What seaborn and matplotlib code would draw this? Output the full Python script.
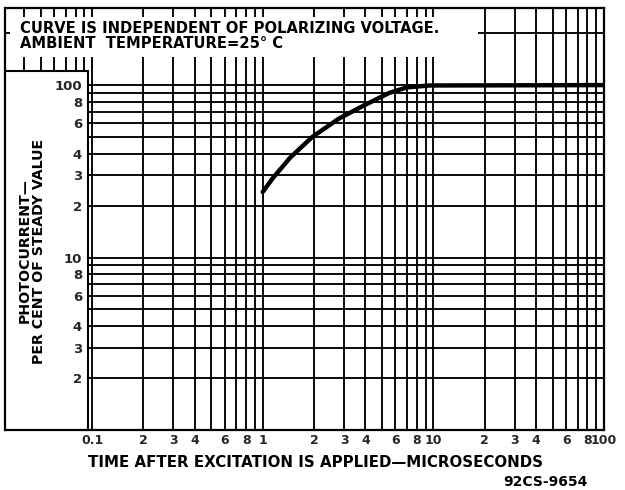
import matplotlib
matplotlib.use("Agg")
import matplotlib.pyplot as plt
import seaborn as sns
from matplotlib.patches import Rectangle

# ---- data ----
time_us = [1.0, 1.15, 1.45, 1.95, 2.8, 4.0, 5.5, 7.0, 9.5, 100]
photocurrent_pct = [24, 29, 38, 50, 64, 77, 90, 97, 99.5, 100]

x_grid = [0.04, 0.05, 0.06, 0.07, 0.08, 0.09,
          0.1, 0.2, 0.3, 0.4, 0.5, 0.6, 0.7, 0.8, 0.9,
          1, 2, 3, 4, 5, 6, 7, 8, 9,
          10, 20, 30, 40, 50, 60, 70, 80, 90]
y_grid = [2, 3, 4, 5, 6, 7, 8, 9,
          10, 20, 30, 40, 50, 60, 70, 80, 90, 100, 200]

x_ticks = [0.1, 0.2, 0.3, 0.4, 0.6, 0.8, 1, 2, 3, 4, 6, 8, 10, 20, 30, 40, 60, 80, 100]
x_tick_labels = ["0.1", "2", "3", "4", "6", "8", "1", "2", "3", "4", "6", "8", "10",
                 "2", "3", "4", "6", "8", "100"]
y_ticks = [2, 3, 4, 6, 8, 10, 20, 30, 40, 60, 80, 100]
y_tick_labels = ["2", "3", "4", "6", "8", "10", "2", "3", "4", "6", "8", "100"]

note_lines = ["CURVE IS INDEPENDENT OF POLARIZING VOLTAGE.",
              "AMBIENT  TEMPERATURE=25° C"]
y_title = ["PHOTOCURRENT—", "PER CENT OF STEADY VALUE"]
x_title = "TIME AFTER EXCITATION IS APPLIED—MICROSECONDS"
code = "92CS-9654"

# ---- figure ----
sns.set_theme(style="white")
plt.rcParams["font.family"] = ["DejaVu Sans"]
W, H = 625, 490
fig = plt.figure(figsize=(W / 100, H / 100), dpi=100)
fig.patch.set_facecolor("white")

L, R, T, B = 5, 604, 8, 430
ax = fig.add_axes([L / W, 1 - B / H, (R - L) / W, (B - T) / H])
ax.set_xscale("log")
ax.set_yscale("log")
ax.set_xlim(0.0309, 100)
ax.set_ylim(1, 280)
ax.set_facecolor("white")

for xv in x_grid:
    ax.axvline(xv, color="black", lw=1.35, zorder=0.5)
for yv in y_grid:
    ax.axhline(yv, color="black", lw=1.35, zorder=0.5)

# white panels (note box and y-label box)
ax.add_patch(Rectangle((0.0331, 145), 18.2 - 0.0331, 248 - 145,
                       facecolor="white", edgecolor="none", zorder=1.2))
ax.add_patch(Rectangle((0.02, 0.5), 0.0948 - 0.02, 120.5 - 0.5,
                       facecolor="white", edgecolor="black", lw=1.5, zorder=1.2))

sns.lineplot(x=time_us, y=photocurrent_pct, ax=ax, color="black", lw=3.2,
             sort=False, zorder=3)

ax.set_axisbelow(False)
ax.xaxis.set_minor_locator(matplotlib.ticker.NullLocator())
ax.yaxis.set_minor_locator(matplotlib.ticker.NullLocator())
ax.set_xticks(x_ticks, x_tick_labels)
ax.set_yticks(y_ticks, y_tick_labels)
ax.tick_params(axis="x", length=0, pad=3, labelsize=9)
ax.tick_params(axis="y", length=0, pad=-(82 - L) * 0.72, labelsize=9.5)
for lab in ax.get_xticklabels() + ax.get_yticklabels():
    lab.set_fontweight("bold")
for s in ax.spines.values():
    s.set_color("black")
    s.set_linewidth(1.6)
    s.set_zorder(4)
ax.set_xlabel("")
ax.set_ylabel("")

tk = dict(fontweight="bold", color="black")
fig.text(20 / W, 1 - 36 / H, "\n".join(note_lines), ha="left", va="center",
         fontsize=10.6, linespacing=0.92, **tk)
fig.text(32 / W, 1 - 251 / H, "\n".join(y_title), rotation=90, ha="center", va="center",
         multialignment="center", fontsize=10.2, linespacing=1.0, **tk)
fig.text(315 / W, 1 - 462 / H, x_title, ha="center", va="center", fontsize=10.8, **tk)
fig.text(545 / W, 1 - 482 / H, code, ha="center", va="center", fontsize=10, **tk)

fig.savefig("out.png", dpi=100, facecolor="white")
